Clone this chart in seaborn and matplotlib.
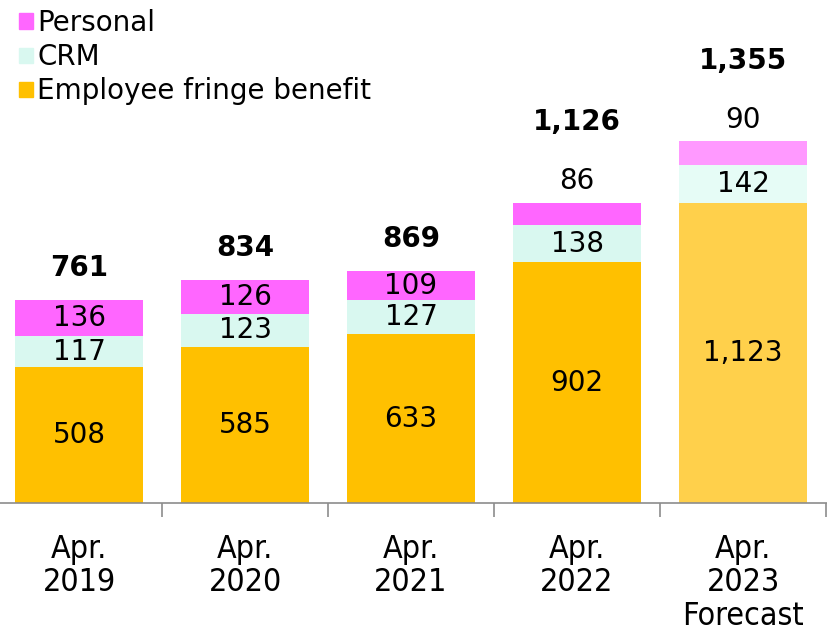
import numpy as np
import pandas as pd
import matplotlib
matplotlib.use("Agg")
import matplotlib.pyplot as plt
from matplotlib.patches import Patch
import seaborn as sns

# data
periods = ["Apr.\n2019", "Apr.\n2020", "Apr.\n2021", "Apr.\n2022", "Apr.\n2023\nForecast"]
employee = [508, 585, 633, 902, 1123]
crm = [117, 123, 127, 138, 142]
personal = [136, 126, 109, 86, 90]
totals = [761, 834, 869, 1126, 1355]

df = pd.DataFrame({"period": periods, "employee": employee, "crm": crm, "personal": personal})
df["emp_crm"] = df["employee"] + df["crm"]
df["total"] = df["emp_crm"] + df["personal"]

# colours: last bar (forecast) is lighter
c_pers = ["#FF66FF"] * 4 + ["#FF99FF"]
c_crm = ["#D9F8F0"] * 4 + ["#E6FCF6"]
c_emp = ["#FFC000"] * 4 + ["#FFD04B"]

sns.set_style("white")
plt.rcParams["font.family"] = ["DejaVu Sans"]
plt.rcParams["text.color"] = "black"
plt.rcParams["xtick.color"] = "black"

fig = plt.figure(figsize=(8.27, 6.35), dpi=100)
ax = fig.add_axes([0, 132 / 635, 1, 503 / 635])

w = 0.77
for col, pal in [("total", c_pers), ("emp_crm", c_crm), ("employee", c_emp)]:
    sns.barplot(data=df, x="period", y=col, hue="period", palette=pal, width=w,
                legend=False, ax=ax, saturation=1, linewidth=0)

fs = 20
for i, row in df.iterrows():
    ax.text(i, row["employee"] / 2, f"{row['employee']:,}", ha="center", va="center", fontsize=fs)
    ax.text(i, row["employee"] + row["crm"] / 2, f"{row['crm']:,}", ha="center", va="center", fontsize=fs)
    if row["personal"] >= 100:
        ax.text(i, row["emp_crm"] + row["personal"] / 2, f"{row['personal']:,}",
                ha="center", va="center", fontsize=fs)
        ax.text(i, row["total"] + 120, f"{row['total']:,}", ha="center", va="center",
                fontsize=fs, fontweight="bold")
    else:
        ax.text(i, row["total"] + 80, f"{row['personal']:,}", ha="center", va="center", fontsize=fs)
        ax.text(i, row["total"] + 300, f"{row['total']:,}", ha="center", va="center",
                fontsize=fs, fontweight="bold")

ax.set_xlim(-0.476, 4.506)
ax.set_ylim(0, 1885)
ax.set_xlabel("")
ax.set_ylabel("")
ax.set_yticks([])
for s in ["top", "right", "left"]:
    ax.spines[s].set_visible(False)
ax.spines["bottom"].set_color("#8C8C8C")
ax.spines["bottom"].set_linewidth(1.2)

ax.set_xticks(range(len(periods)))
ax.set_xticklabels(periods, fontsize=23, family="DejaVu Sans",
                   fontstretch="condensed", linespacing=1.12)
ax.tick_params(axis="x", which="major", length=0, pad=22)
ax.set_xticks(np.arange(0.5, 5, 1), minor=True)
ax.tick_params(axis="x", which="minor", bottom=True, length=10, width=1.2,
               color="#8C8C8C", direction="out")

handles = [Patch(color="#FF66FF", label="Personal"),
           Patch(color="#D9F8F0", label="CRM"),
           Patch(color="#FFC000", label="Employee fringe benefit")]
fig.legend(handles=handles, loc="upper left", bbox_to_anchor=(0.01, 1.003), frameon=False,
           fontsize=20, handlelength=0.5, handleheight=0.5, handletextpad=0.15,
           labelspacing=0.22, borderaxespad=0)

fig.savefig("out.png", dpi=100)
